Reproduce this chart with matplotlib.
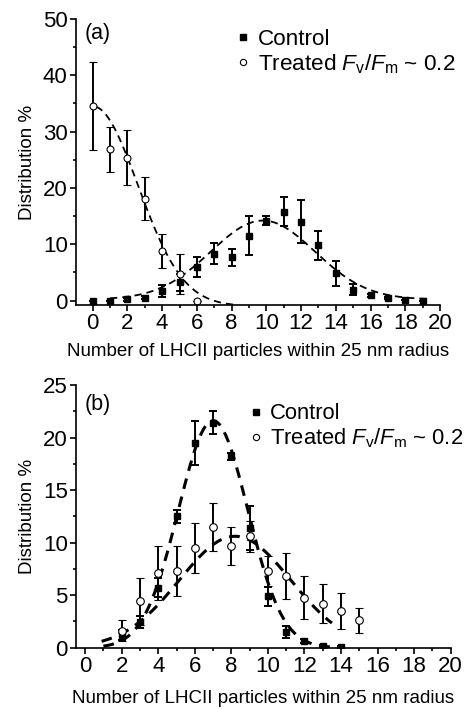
import numpy as np
import matplotlib
matplotlib.use('Agg')
import matplotlib.pyplot as plt
from matplotlib.lines import Line2D
from matplotlib.ticker import MultipleLocator

plt.rcParams['font.family'] = ['Liberation Sans', 'DejaVu Sans']
plt.rcParams['mathtext.fontset'] = 'custom'
plt.rcParams['mathtext.rm'] = 'Liberation Sans'
plt.rcParams['mathtext.it'] = 'Liberation Sans:italic'

# ---- panel (a) data ----
a_ctrl_x = np.arange(0, 20)
a_ctrl_y = [0, 0, 0.2, 0.5, 1.7, 3.2, 6.0, 8.3, 7.7, 11.5, 14.2, 15.8, 14.0, 9.8, 4.8, 1.9, 0.9, 0.4, 0.1, 0]
a_ctrl_e = [0, 0, 0.2, 0.3, 1.0, 1.5, 1.8, 1.9, 1.5, 3.5, 0.8, 2.6, 3.8, 2.6, 2.2, 1.0, 0.3, 0.2, 0, 0]
a_trt_x = np.arange(0, 7)
a_trt_y = [34.5, 26.9, 25.4, 18.1, 8.8, 4.7, 0]
a_trt_e = [7.8, 4.0, 4.8, 3.8, 3.0, 3.6, 0]
# gaussian fits: y0, A, xc, w, x-start, x-end
a_ctrl_fit = [0.2, 14.0, 9.8, 3.0, 1.0, 19.4]
a_trt_fit = [-1.0, 35.5, 0.0, 2.6, 0.2, 8.3]

# ---- panel (b) data ----
b_ctrl_x = np.arange(2, 15)
b_ctrl_y = [1.2, 2.45, 5.7, 12.5, 19.5, 21.4, 18.2, 11.4, 4.9, 1.5, 0.6, 0.15, 0.1]
b_ctrl_e = [0.5, 0.6, 0.9, 0.6, 2.1, 1.1, 0.3, 2.1, 0.9, 0.6, 0.2, 0.1, 0.1]
b_trt_x = np.arange(2, 16)
b_trt_y = [1.6, 4.4, 7.1, 7.3, 9.5, 11.5, 9.7, 10.6, 7.3, 6.8, 4.75, 4.2, 3.5, 2.6]
b_trt_e = [1.0, 2.2, 2.6, 2.4, 2.35, 2.3, 1.8, 1.5, 1.45, 2.2, 2.05, 1.85, 1.75, 1.2]
b_ctrl_fit = [0.0, 21.6, 7.0, 1.9, 1.0, 14.0]
b_trt_fit = [0.0, 10.6, 8.2, 3.05, 0.9, 13.5]

xlabel = 'Number of LHCII particles within 25 nm radius'
ylabel = 'Distribution %'
lab_ctrl = 'Control'
lab_trt = r'Treated $F_{\rm v}/F_{\rm m}$ ~ 0.2'


def gauss(p):
    y0, A, xc, w, x0, x1 = p
    xx = np.linspace(x0, x1, 300)
    return xx, y0 + A*np.exp(-(xx-xc)**2/(2*w**2))


def style_axes(ax, ymaj, ymin, xpad):
    for s in ['top', 'right']:
        ax.spines[s].set_visible(False)
    for s in ['left', 'bottom']:
        ax.spines[s].set_linewidth(1.2)
    ax.xaxis.set_major_locator(MultipleLocator(2))
    ax.xaxis.set_minor_locator(MultipleLocator(1))
    ax.yaxis.set_major_locator(MultipleLocator(ymaj))
    ax.yaxis.set_minor_locator(MultipleLocator(ymin))
    ax.tick_params(which='major', direction='out', length=4, width=1.2, labelsize=16, pad=2)
    ax.tick_params(which='minor', direction='out', length=2.5, width=1.2)
    ax.set_xlabel(xlabel, fontsize=13.5, labelpad=xpad)
    ax.set_ylabel(ylabel, fontsize=13.5, labelpad=5)


fig = plt.figure(figsize=(4.71, 7.09), dpi=100)
eb = dict(color='k', ecolor='k', elinewidth=1.4, capsize=2.6, capthick=1.4, linestyle='none')

# panel (a)
ax1 = fig.add_axes([0.1614, 0.5698, 0.7728, 0.4034])
x, y = gauss(a_trt_fit)
ax1.plot(x, y, 'k', lw=1.3, dashes=(4, 2.8))
x, y = gauss(a_ctrl_fit)
ax1.plot(x, y, 'k', lw=1.3, dashes=(4, 2.8))
ax1.errorbar(a_ctrl_x, a_ctrl_y, yerr=a_ctrl_e, marker='s', ms=4.5, mfc='k', mec='k', **eb)
ax1.errorbar(a_trt_x, a_trt_y, yerr=a_trt_e, marker='o', ms=5, mfc='w', mec='k', mew=0.8, **eb)
ax1.set_xlim(-0.96, 20)
ax1.set_ylim(-0.8, 50)
style_axes(ax1, 10, 5, 6)
ax1.text(0.025, 0.95, '(a)', transform=ax1.transAxes, fontsize=15.5, va='center', ha='left')

# panel (b)
ax2 = fig.add_axes([0.1614, 0.0865, 0.7955, 0.3705])
x, y = gauss(b_ctrl_fit)
ax2.plot(x, y, 'k', lw=2.2, dashes=(3.5, 2.6))
x, y = gauss(b_trt_fit)
ax2.plot(x, y, 'k', lw=2.2, dashes=(3.5, 2.6))
ax2.errorbar(b_ctrl_x, b_ctrl_y, yerr=b_ctrl_e, marker='s', ms=4.5, mfc='k', mec='k', **eb)
ax2.errorbar(b_trt_x, b_trt_y, yerr=b_trt_e, marker='o', ms=5.5, mfc='w', mec='k', mew=0.8, **eb)
ax2.set_xlim(-0.5, 20)
ax2.set_ylim(0, 25)
style_axes(ax2, 5, 2.5, 9.5)
ax2.text(0.022, 0.924, '(b)', transform=ax2.transAxes, fontsize=15.5, va='center', ha='left')

handles = [Line2D([], [], marker='s', ms=4, color='k', ls='none'),
           Line2D([], [], marker='o', ms=4.5, mfc='w', mec='k', mew=0.8, ls='none')]
for ax, anchor, fs in [(ax1, (0.44, 0.965), 16.2), (ax2, (0.462, 0.93), 15.8)]:
    ax.legend(handles, [lab_ctrl, lab_trt], loc='upper left', bbox_to_anchor=anchor,
              frameon=False, fontsize=fs, handlelength=0.6, handletextpad=0.35,
              labelspacing=0.1, borderpad=0, borderaxespad=0)

fig.savefig('out.png', dpi=100)
